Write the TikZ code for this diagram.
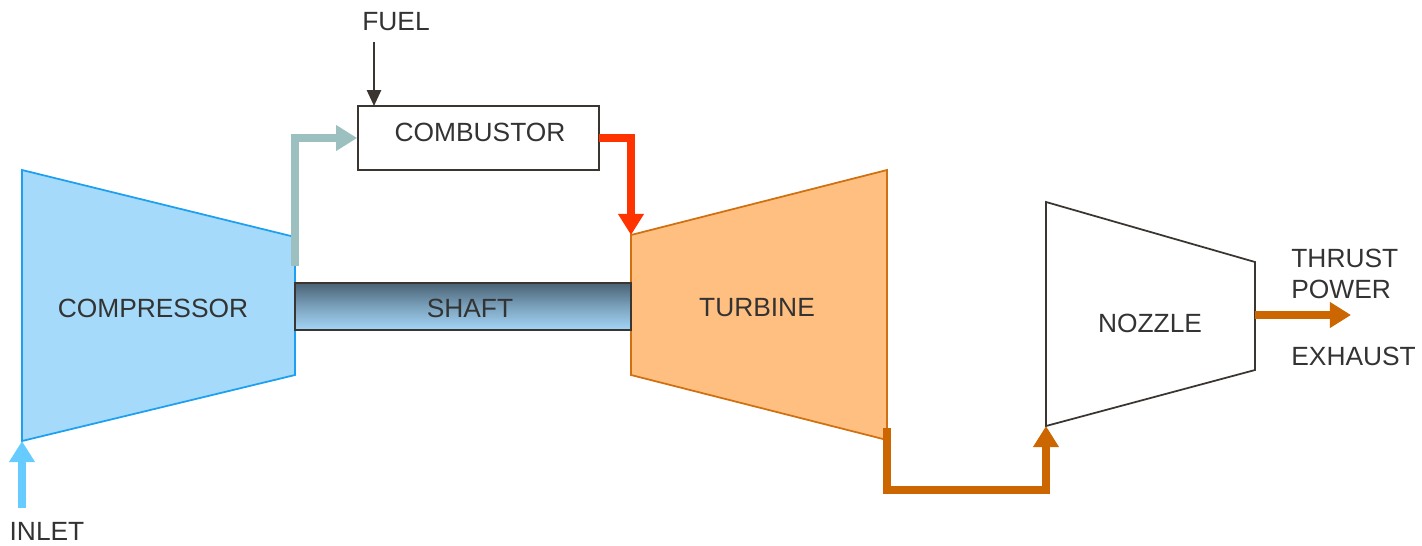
\documentclass[tikz,border=0pt]{standalone}
\usepackage{fontspec}
\setmainfont{Liberation Sans}
\usetikzlibrary{arrows.meta}
\definecolor{txt}{HTML}{333333}
\definecolor{compfill}{HTML}{A6DAFA}
\definecolor{compline}{HTML}{1EA0F0}
\definecolor{turbfill}{HTML}{FFBF80}
\definecolor{turbline}{HTML}{D07010}
\definecolor{airflow}{HTML}{9CC0C0}
\definecolor{hotflow}{HTML}{FF3300}
\definecolor{exflow}{HTML}{CC6600}
\definecolor{inletc}{HTML}{66CCFF}
\definecolor{shafttop}{HTML}{4A6275}
\definecolor{shaftbot}{HTML}{A3D6F7}
\definecolor{boxline}{HTML}{3A3530}
\tikzset{
  lbl/.style={font=\fontsize{15}{17}\selectfont, text=txt, inner sep=0pt},
  flow/.style={line width=4.6pt, line join=miter, -{Triangle[length=12pt,width=14pt]}},
}
\begin{document}
\begin{tikzpicture}[x=0.02cm,y=-0.02cm]
\useasboundingbox (0,0) rectangle (1422,545);
% compressor
\coordinate (c1) at (22,170); \coordinate (c2) at (295,237);
\coordinate (c3) at (295,375); \coordinate (c4) at (22,441);
\draw[fill=compfill, draw=compline, line width=1pt] (c1) -- (c2) -- (c3) -- (c4) -- cycle;
\node[lbl] (comp) at (153,308) {COMPRESSOR};
% turbine
\coordinate (t1) at (631,235); \coordinate (t2) at (887,170);
\coordinate (t3) at (887,440); \coordinate (t4) at (631,375);
\draw[fill=turbfill, draw=turbline, line width=1pt] (t1) -- (t2) -- (t3) -- (t4) -- cycle;
\node[lbl] (turb) at (757,308) {TURBINE};
% nozzle
\coordinate (n1) at (1046,202); \coordinate (n2) at (1255,262);
\coordinate (n3) at (1255,370); \coordinate (n4) at (1046,426);
\draw[draw=boxline, line width=1pt] (n1) -- (n2) -- (n3) -- (n4) -- cycle;
\node[lbl] (noz) at (1150,323) {NOZZLE};
% shaft
\shade[top color=shafttop, bottom color=shaftbot, middle color=shafttop!45!shaftbot] (295,283) rectangle (631,330);
\node[draw=boxline, line width=1pt, minimum width=336*0.02cm, minimum height=47*0.02cm, inner sep=0pt] (shaft) at (463,306.5) {};
\node[lbl] (shafttxt) at (470,308) {SHAFT};
% combustor
\node[draw=boxline, line width=1pt, minimum width=241*0.02cm, minimum height=64*0.02cm, inner sep=0pt] (comb) at (478.5,138) {};
\node[lbl] (combtxt) at (480,132) {COMBUSTOR};
% fuel
\node[lbl] (fuel) at (396,22) {FUEL};
\coordinate (fuelstart) at (374,42);
\coordinate (fuelend) at (374,106);
\draw[boxline, line width=1.2pt, -{Triangle[length=9pt,width=8pt]}] (fuelstart) -- (fuelend);
% compressor -> combustor
\coordinate (a0) at (295,266);
\draw[flow, airflow] (a0) |- (comb.west);
% combustor -> turbine
\coordinate (r0) at (599,138);
\draw[flow, hotflow] (r0) -| (t1);
% turbine -> nozzle
\coordinate (e0) at (887,428);
\coordinate (e1) at (887,490);
\coordinate (e2) at (1046,490);
\draw[flow, exflow] (e0) -- (e1) -- (e2) -- (n4);
% thrust
\coordinate (th0) at (1255,315);
\coordinate (th1) at (1351,315);
\draw[flow, exflow] (th0) -- (th1);
\node[lbl, anchor=west] (thrust) at (1291,258) {THRUST};
\node[lbl, anchor=west] (power) at (1291,289) {POWER};
\node[lbl, anchor=west] (exhaust) at (1291,356) {EXHAUST};
% inlet
\coordinate (i0) at (22,508);
\draw[flow, inletc] (i0) -- (c4);
\node[lbl] (inlet) at (47,531) {INLET};
\end{tikzpicture}
\end{document}
